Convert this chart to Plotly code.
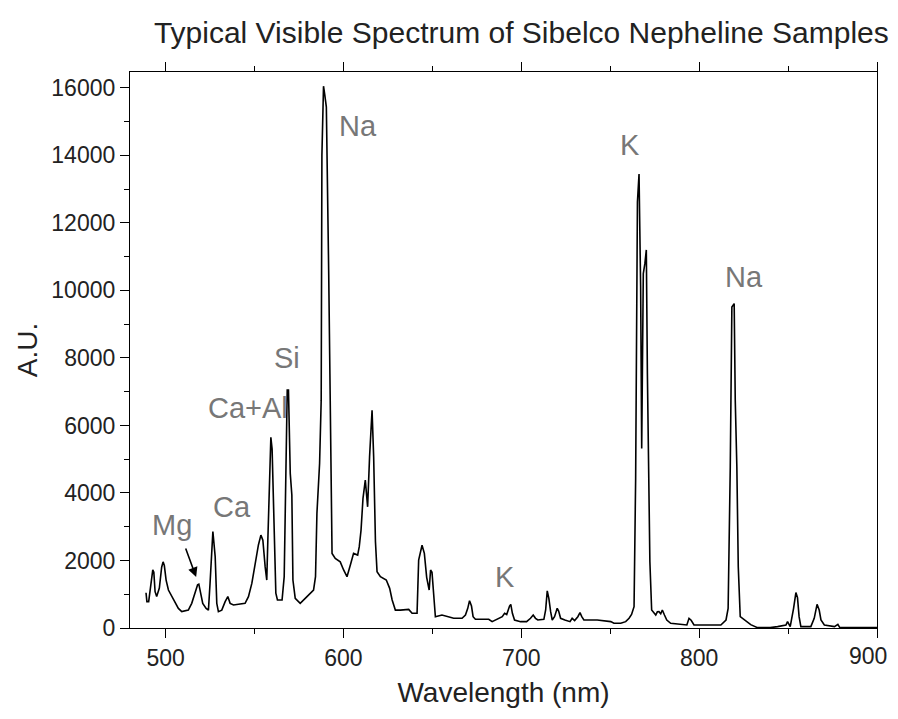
import plotly.graph_objects as go

# Wavelength (nm) and intensity (A.U.)
wavelength = [489.0, 489.5, 490.5, 492.2, 492.8, 493.4, 494.1, 495.0, 496.5, 497.8, 498.6, 499.3, 500.3,
              501.6, 503.5, 505.3, 507.2, 509.1, 512.8, 514.7, 516.6, 518.0, 518.7, 519.4, 520.9, 522.8,
              524.1, 525.0, 526.0, 526.6, 527.9, 528.8, 529.7, 531.6, 533.5, 535.0, 536.3, 538.2, 544.7,
              546.6, 548.5, 550.4, 552.2, 553.6, 554.7, 556.0, 556.9, 557.5, 558.4, 559.2, 559.9, 561.1,
              562.0, 562.9, 565.5, 566.7, 567.5, 568.4, 569.1, 570.1, 571.0, 571.6, 572.9, 575.7, 579.5,
              583.2, 584.3, 585.1, 586.6, 587.5, 587.9, 588.8, 589.5, 590.4, 591.7, 593.0, 593.6, 595.4,
              598.2, 600.1, 602.0, 603.9, 605.7, 608.0, 608.9, 609.9, 611.0, 612.3, 613.6, 614.7, 616.1,
              617.0, 618.0, 618.9, 620.8, 624.1, 626.0, 627.4, 629.2, 632.0, 636.7, 638.6, 641.4, 642.3,
              644.2, 645.5, 646.8, 648.2, 649.0, 649.8, 650.7, 651.7, 655.4, 659.2, 662.0, 666.7, 668.6,
              669.9, 670.9, 672.0, 672.9, 674.2, 681.7, 683.6, 685.5, 687.4, 689.3, 690.6, 691.8, 693.4,
              694.1, 695.0, 696.2, 699.6, 703.0, 705.2, 706.7, 708.0, 709.3, 712.7, 713.7, 714.6, 715.5,
              716.5, 717.4, 718.7, 720.2, 721.0, 722.1, 724.5, 727.4, 728.6, 730.0, 731.8, 733.0, 734.0,
              735.2, 742.7, 750.3, 752.1, 755.9, 758.7, 760.6, 762.0, 763.4, 764.3, 765.3, 766.2, 767.1,
              767.7, 768.6, 769.5, 770.3, 770.9, 772.3, 773.3, 775.6, 776.5, 777.4, 778.4, 779.3, 780.5,
              781.8, 784.0, 788.0, 793.1, 794.3, 795.5, 797.1, 805.0, 812.2, 815.1, 816.3, 817.5, 818.4,
              819.7, 820.3, 821.2, 822.0, 823.1, 825.4, 829.0, 832.8, 840.0, 844.1, 848.8, 849.7, 851.2,
              853.1, 854.4, 855.3, 856.2, 857.2, 862.8, 864.7, 866.3, 867.5, 868.5, 870.4, 874.0, 876.1,
              878.0, 879.0, 885.0, 900.0]
intensity = [1045, 780, 780, 1500, 1720, 1650, 1075, 930, 1185, 1800, 1960, 1850, 1420,
             1125, 930, 780, 580, 485, 530, 730, 1030, 1280, 1300, 1075, 730, 580,
             530, 1320, 2600, 2860, 2110, 730, 485, 530, 780, 930, 730, 680, 730,
             930, 1320, 1910, 2460, 2750, 2600, 1810, 1420, 2600, 4680, 5650, 5300, 2800,
             1030, 830, 830, 1520, 4480, 7050, 7050, 4580, 3940, 1420, 880, 730, 930,
             1125, 1520, 3400, 4880, 6750, 14000, 16050, 15800, 15430, 10600, 3790, 2210, 2060,
             1960, 1720, 1520, 1865, 2210, 2160, 2410, 2900, 3840, 4380, 3590, 5070, 6450,
             5070, 2560, 1670, 1520, 1420, 1175, 830, 530, 530, 550, 435, 435, 2010,
             2450, 2210, 1500, 1125, 1720, 1650, 930, 335, 385, 316, 287, 287, 385,
             583, 810, 650, 335, 257, 257, 188, 237, 287, 335, 435, 400, 650,
             700, 435, 237, 188, 188, 287, 385, 287, 237, 257, 533, 1100, 880,
             484, 237, 335, 583, 500, 287, 237, 188, 287, 220, 335, 454, 335,
             237, 237, 188, 139, 139, 188, 287, 400, 631, 4430, 12620, 13450, 10100,
             5320, 10500, 10800, 11200, 7540, 1960, 533, 385, 480, 484, 420, 533, 385,
             237, 139, 120, 89, 287, 230, 89, 89, 89, 237, 583, 4775, 9510,
             9610, 6750, 4775, 1815, 335, 237, 100, 10, 10, 40, 89, 188, 40,
             583, 1050, 900, 335, 40, 40, 287, 700, 533, 237, 89, 60, 40,
             109, 20, 10, 10]

# Element labels: text, wavelength, intensity
label_text = ["Na", "K", "Na", "Si", "Ca+Al", "Ca", "Mg", "K"]
label_x = [608.0, 761.4, 825.0, 568.4, 546.6, 537.2, 503.7, 691.1]
label_y = [14880, 14300, 10400, 7990, 6510, 3590, 3050, 1500]

title_text = "Typical Visible Spectrum of Sibelco Nepheline Samples"
x_title = "Wavelength (nm)"
y_title = "A.U."
x_ticks = [500, 600, 700, 800, 900]
x_tick_labels = ["500", "600", "700", "800", "900"]
y_ticks = [0, 2000, 4000, 6000, 8000, 10000, 12000, 14000, 16000]

FONT = "Liberation Sans, Arial, sans-serif"
TICKFONT = dict(family=FONT, size=23, color="#222222")

fig = go.Figure()
fig.add_trace(go.Scatter(x=wavelength, y=intensity, mode="lines",
                         line=dict(color="black", width=1.6), showlegend=False,
                         hoverinfo="skip"))

for t, x, y in zip(label_text, label_x, label_y):
    fig.add_annotation(x=x, y=y, text=t, showarrow=False, xref="x", yref="y",
                       font=dict(family=FONT, size=29, color="#777777"))

# Mg arrow
fig.add_annotation(x=517.2, y=1510, ax=511.0, ay=2400, axref="x", ayref="y",
                   xref="x", yref="y", text="", showarrow=True,
                   arrowhead=2, arrowsize=1.2, arrowwidth=1.6, arrowcolor="black")

# the last x tick label is drawn right-aligned so it stays inside the page
fig.add_annotation(x=x_ticks[-1], y=0, xref="x", yref="paper", text=x_tick_labels[-1],
                   showarrow=False, xanchor="right", yanchor="top", xshift=12, yshift=-13,
                   font=TICKFONT)

# page body has an 8px margin on every side: keep the figure inside the window
fig.update_layout(
    width=882, height=703,
    margin=dict(l=122, r=13, t=64, b=83, autoexpand=False),
    paper_bgcolor="white", plot_bgcolor="white",
    title=dict(text=title_text, x=0.582, xanchor="center", y=0.9655, yanchor="middle",
               font=dict(family=FONT, size=30, color="#222222")),
    font=dict(family=FONT, color="#222222"),
)

fig.update_xaxes(
    range=[480, 900], tickvals=x_ticks, ticktext=x_tick_labels[:-1] + [""], ticks="outside",
    ticklen=9, tickwidth=1.2, tickcolor="black", showline=True, linecolor="black", linewidth=1.2,
    mirror="ticks", showgrid=False, zeroline=False, automargin=False, ticklabeloverflow="allow",
    tickfont=TICKFONT,
    minor=dict(dtick=50, tick0=0, ticks="outside", ticklen=5, tickwidth=1.2, tickcolor="black"),
    title=dict(text=x_title, font=dict(family=FONT, size=28, color="#222222"), standoff=12),
)
fig.update_yaxes(
    range=[0, 16470], tickvals=y_ticks, tickformat="d", ticks="outside", ticklen=9, tickwidth=1.2,
    tickcolor="black", showline=True, linecolor="black", linewidth=1.2, mirror=True,
    showgrid=False, zeroline=False, automargin=False, ticklabeloverflow="allow",
    tickfont=TICKFONT,
    minor=dict(dtick=1000, tick0=0, ticks="outside", ticklen=5, tickwidth=1.2, tickcolor="black"),
    title=dict(text=y_title, font=dict(family=FONT, size=28, color="#222222"), standoff=5),
)

fig.write_html("out.html")
